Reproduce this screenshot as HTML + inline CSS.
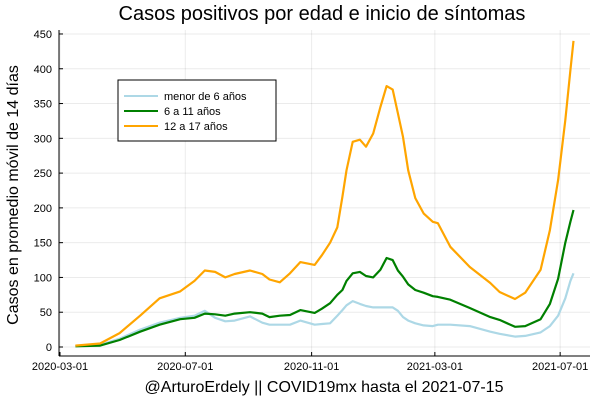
<!DOCTYPE html>
<html><head><meta charset="utf-8"><style>
body{margin:0;background:#fff}
svg text{font-family:"Liberation Sans","DejaVu Sans",sans-serif;fill:#000}
</style></head><body>
<svg width="600" height="400" xmlns="http://www.w3.org/2000/svg">
<rect width="600" height="400" fill="#fff"/>
<g id="grid"></g>
<g id="axes"></g>
<g id="lines"></g>
<text x="322" y="20" font-size="20" text-anchor="middle">Casos positivos por edad e inicio de síntomas</text>
<text x="324" y="392" font-size="16" text-anchor="middle">@ArturoErdely || COVID19mx hasta el 2021-07-15</text>
<text transform="translate(18,195) rotate(-90)" font-size="16" text-anchor="middle">Casos en promedio móvil de 14 días</text>
<g>
<rect x="118" y="80" width="158" height="61" fill="#fff" stroke="#000" stroke-width="1"/>
<g><line x1="124" y1="96" x2="158" y2="96" stroke="#add8e6" stroke-width="2"/><text x="164" y="100" font-size="11">menor de 6 años</text></g>
<g><line x1="124" y1="111" x2="158" y2="111" stroke="#008000" stroke-width="2"/><text x="164" y="115" font-size="11">6 a 11 años</text></g>
<g><line x1="124" y1="126" x2="158" y2="126" stroke="#ffa500" stroke-width="2"/><text x="164" y="130" font-size="11">12 a 17 años</text></g>
</g>
</svg>
<script>
const days=[15,39,58,78,97,117,131,141,151,161,170,185,197,204,214,224,234,248,255,263,270,275,279,285,292,298,305,312,318,324,329,334,339,346,354,363,368,380,399,419,428,443,453,468,477,485,492,497,500];
const teen=[2,5,20,45,70,80,95,110,108,100,105,110,105,97,93,106,122,118,132,150,172,216,254,295,298,288,307,345,375,370,336,302,254,214,192,180,178,144,115,92,79,69,78,111,168,240,326,398,440];
const mid=[1,2,10,22,32,40,42,48,47,45,48,50,48,43,45,46,53,49,55,63,75,82,95,106,108,102,100,111,128,125,110,101,90,82,78,73,72,68,56,43,39,29,30,40,62,98,150,180,197];
const young=[1,3,12,25,35,42,45,52,42,37,38,44,35,32,32,32,38,32,33,34,45,53,60,66,62,59,57,57,57,57,52,43,38,34,31,30,32,32,30,22,19,15,16,21,30,45,70,95,106];
const yTicks=[0,50,100,150,200,250,300,350,400,450];
const xTickDays=[0,122,245,365,487];
const xTickLabels=["2020-03-01","2020-07-01","2020-11-01","2021-03-01","2021-07-01"];
const NS="http://www.w3.org/2000/svg";
const X=d=>60+d*1.027, Y=v=>347-v*0.6956;
function mk(t,a,p){const e=document.createElementNS(NS,t);for(const k in a)e.setAttribute(k,a[k]);p.appendChild(e);return e;}
const grid=document.getElementById('grid'),axes=document.getElementById('axes'),lines=document.getElementById('lines');
yTicks.forEach(v=>{
 const g=mk('line',{x1:59,x2:590,y1:Y(v),y2:Y(v),stroke:'#000','stroke-opacity':0.08,'stroke-width':1},grid);
 
 
 mk('line',{x1:59,x2:63,y1:Y(v),y2:Y(v),stroke:'#000'},axes);
 const t=mk('text',{x:52,y:Y(v)+4,'font-size':11,'text-anchor':'end'},axes);t.textContent=v;
 
 
});
xTickDays.forEach((d,i)=>{
 const g=mk('line',{x1:X(d),x2:X(d),y1:30,y2:356,stroke:'#000','stroke-opacity':0.08,'stroke-width':1},grid);
 
 
 mk('line',{x1:X(d),x2:X(d),y1:352,y2:356,stroke:'#000'},axes);
 const t=mk('text',{x:X(d),y:370,'font-size':11,'text-anchor':'middle'},axes);t.textContent=xTickLabels[i];
 
 
});
mk('line',{x1:59,x2:59,y1:30,y2:356,stroke:'#000'},axes);
mk('line',{x1:59,x2:590,y1:356,y2:356,stroke:'#000'},axes);
[[young,'#add8e6','line-menor-6'],[mid,'#008000','line-6-11'],[teen,'#ffa500','line-12-17']].forEach(([s,c,n])=>{
 const p=mk('polyline',{points:s.map((v,i)=>X(days[i]).toFixed(1)+','+Y(v).toFixed(1)).join(' '),fill:'none',stroke:c,'stroke-width':2.2,'stroke-linejoin':'round'},lines);
 
 
});
</script>
</body></html>
